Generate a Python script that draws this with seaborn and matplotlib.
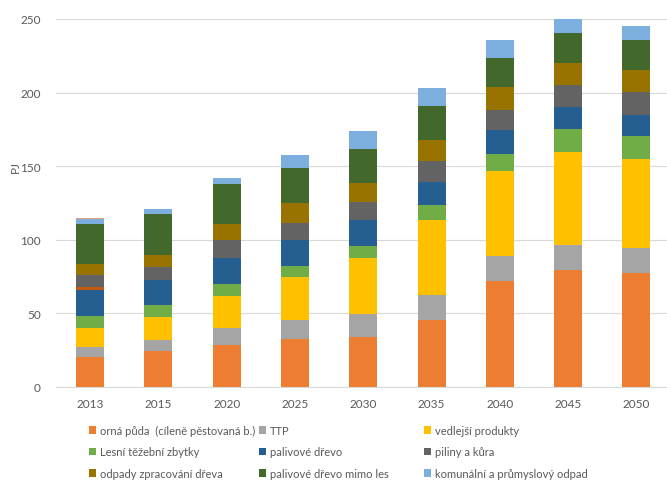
import matplotlib
matplotlib.use("Agg")
import matplotlib.pyplot as plt
import seaborn as sns
import pandas as pd
import numpy as np
from matplotlib.patches import Patch

years = ["2013", "2015", "2020", "2025", "2030", "2035", "2040", "2045", "2050"]

orna_puda = [20.6, 24.2, 28.2, 32.6, 33.9, 45.2, 72.1, 79.4, 77.3]
ttp = [6.8, 7.9, 12.0, 13.1, 15.8, 17.0, 17.0, 17.0, 17.0]
vedlejsi = [12.9, 15.4, 21.9, 28.7, 38.0, 51.4, 57.6, 63.0, 60.5]
lesni = [8.0, 7.9, 7.9, 7.5, 8.1, 10.2, 11.6, 15.8, 15.8]
palivove = [17.7, 17.6, 17.4, 18.3, 17.6, 15.8, 16.5, 14.8, 14.1]
ostatni_a = [1.6, 0, 0, 0, 0, 0, 0, 0, 0]
piliny = [8.6, 8.4, 12.4, 11.3, 12.0, 13.8, 13.4, 15.2, 15.8]
odpady = [7.3, 8.3, 10.9, 13.4, 13.1, 14.5, 15.9, 15.0, 14.8]
mimo_les = [27.3, 27.8, 27.3, 23.7, 23.1, 23.3, 19.5, 20.4, 20.4]
komunalni = [3.4, 3.4, 4.1, 9.0, 12.4, 12.0, 12.2, 10.0, 9.7]
ostatni_b = [0.7, 0, 0, 0, 0, 0, 0, 0, 0]

labels = {
    "orna": "orná půda  (cíleně pěstovaná b.)",
    "ttp": "TTP",
    "vedlejsi": "vedlejší produkty",
    "lesni": "Lesní těžební zbytky",
    "palivove": "palivové dřevo",
    "piliny": "piliny a kůra",
    "odpady": "odpady zpracování dřeva",
    "mimo_les": "palivové dřevo mimo les",
    "komunalni": "komunální a průmyslový odpad",
}

stack_keys = ["orna", "ttp", "vedlejsi", "lesni", "palivove", "ostatni_a",
              "piliny", "odpady", "mimo_les", "komunalni", "ostatni_b"]
stack_vals = [orna_puda, ttp, vedlejsi, lesni, palivove, ostatni_a,
              piliny, odpady, mimo_les, komunalni, ostatni_b]
colors = {
    "orna": "#ED7D31", "ttp": "#A5A5A5", "vedlejsi": "#FFC000",
    "lesni": "#70AD47", "palivove": "#255E91", "ostatni_a": "#C55A11",
    "piliny": "#636363", "odpady": "#997300", "mimo_les": "#43682B",
    "komunalni": "#7CAFDD", "ostatni_b": "#E9A27A",
}

sns.set_theme(style="white")
plt.rcParams['font.family'] = ['Lato', 'DejaVu Sans']
text_col = "#595959"
grid_col = "#D9D9D9"

fig = plt.figure(figsize=(6.67, 4.89), dpi=100)
ax = fig.add_axes([56 / 667, 101 / 489, 614.5 / 667, 368 / 489])

cum = np.cumsum(np.array(stack_vals), axis=0)
for i in reversed(range(len(stack_keys))):
    df = pd.DataFrame({"year": years, "value": cum[i]})
    sns.barplot(data=df, x="year", y="value", color=colors[stack_keys[i]],
                saturation=1, width=0.41, errorbar=None, linewidth=0,
                edgecolor="none", ax=ax)

ax.set_ylim(0, 250)
ax.set_yticks(range(0, 251, 50))
ax.yaxis.grid(True, color=grid_col, linewidth=0.8)
ax.set_axisbelow(True)
for s in ["top", "right", "left"]:
    ax.spines[s].set_visible(False)
ax.spines["bottom"].set_color(grid_col)
ax.spines["bottom"].set_linewidth(0.8)
ax.tick_params(axis="both", length=0, colors=text_col, labelsize=8.5)
ax.tick_params(axis="y", pad=11)
ax.tick_params(axis="x", pad=8)
ax.set_xlabel("")
ax.set_ylabel("PJ", color=text_col, fontsize=8.5)
ax.yaxis.set_label_coords(-0.057, 0.60)

cols = [["orna", "lesni", "odpady"],
        ["ttp", "palivove", "mimo_les"],
        ["vedlejsi", "piliny", "komunalni"]]
col_x = [89, 259, 424]
for keys, xpx in zip(cols, col_x):
    handles = [Patch(facecolor=colors[k], edgecolor="none") for k in keys]
    leg = fig.legend(handles, [labels[k] for k in keys], loc="upper left",
                     bbox_to_anchor=(xpx / 667, 1 - 426 / 489),
                     frameon=False, fontsize=8, borderpad=0,
                     handlelength=0.65, handleheight=0.65, handletextpad=0.35,
                     labelspacing=0.94, borderaxespad=0)
    for t in leg.get_texts():
        t.set_color(text_col)

fig.savefig("out.png", dpi=100)
